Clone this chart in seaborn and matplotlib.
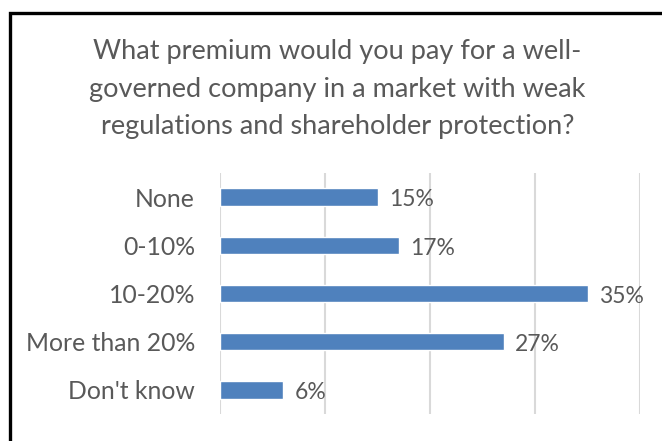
import matplotlib
matplotlib.use("Agg")
import matplotlib.pyplot as plt
import matplotlib.patches as patches
import seaborn as sns
import pandas as pd

# =====================
# Data
# =====================
categories = ["None", "0-10%", "10-20%", "More than 20%", "Don't know"]
values = [15, 17, 35, 27, 6]
xticks = [0, 10, 20, 30, 40]
title = ("What premium would you pay for a well-\n"
         "governed company in a market with weak\n"
         "regulations and shareholder protection?")

df = pd.DataFrame({"answer": categories, "pct": values})

# =====================
# Style
# =====================
sns.set_style("white")
plt.rcParams["font.family"] = ["Lato", "DejaVu Sans"]
text_color = "#595959"
bar_color = "#4F81BD"
grid_color = "#D9D9D9"

fig = plt.figure(figsize=(6.62, 4.41), dpi=100)
ax = fig.add_axes([220 / 662, 1 - 414 / 441, 420 / 662, 241 / 441])

sns.barplot(data=df, y="answer", x="pct", orient="h", color=bar_color,
            width=0.36, saturation=1, ax=ax, zorder=3)

ax.set_xlim(xticks[0], xticks[-1])
ax.set_xticks(xticks)
ax.set_xticklabels([])
ax.tick_params(axis="x", length=0)
ax.tick_params(axis="y", length=0, labelsize=17.8, labelcolor=text_color, pad=18)
ax.grid(axis="x", color=grid_color, linewidth=1.5, zorder=0)
ax.set_xlabel("")
ax.set_ylabel("")
for s in ax.spines.values():
    s.set_visible(False)

# data labels
for i, v in enumerate(values):
    ax.annotate(f"{v}%", xy=(v, i), xytext=(8.5, -2), textcoords="offset points",
                va="center", ha="left", fontsize=16.5, color=text_color)

fig.text(0.51, 1 - 89 / 441, title, ha="center", va="center",
         fontsize=19.5, color=text_color, linespacing=1.62)

# chart border (cropped on the right and bottom)
border = patches.Rectangle((9.5 / 662, -0.1), 1.2, 1.1 - 12.5 / 441,
                           transform=fig.transFigure, fill=False,
                           edgecolor="black", linewidth=2.4)
fig.patches.append(border)

fig.savefig("out.png", dpi=100)
